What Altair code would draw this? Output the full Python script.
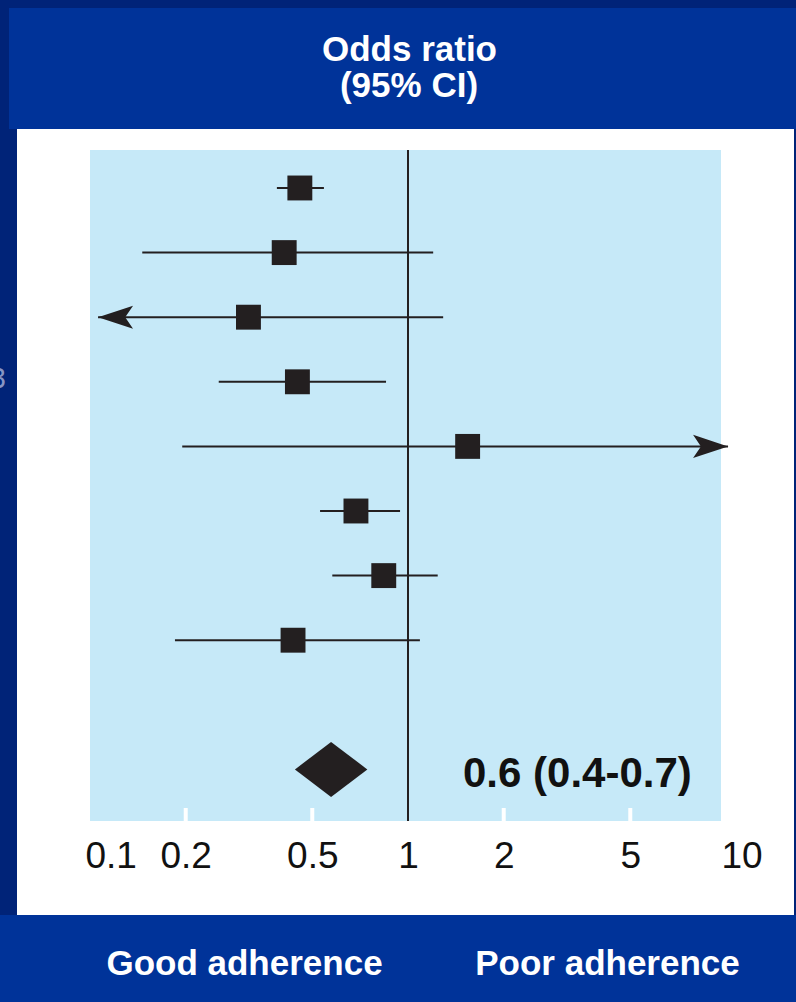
import altair as alt
import pandas as pd

# ---------------- data ----------------
studies = ["Study 1", "Study 2", "Study 3", "Study 4",
           "Study 5", "Study 6", "Study 7", "Study 8"]
odds_ratio = [0.457, 0.408, 0.315, 0.449, 1.54, 0.686, 0.839, 0.435]
ci_low = [0.387, 0.146, 0.106, 0.254, 0.195, 0.529, 0.578, 0.185]
ci_high = [0.544, 1.20, 1.29, 0.853, 10.15, 0.944, 1.24, 1.09]
arrow_dir = ["", "", "left", "", "right", "", "", ""]

pooled_or = 0.573
pooled_low = 0.441
pooled_high = 0.745
pooled_label = "0.6 (0.4-0.7)"

tick_values = [0.1, 0.2, 0.5, 1, 2, 5, 10]
inner_ticks = [0.2, 0.5, 2, 5]
reference_or = [1]

header_lines = ["Odds ratio", "(95% CI)"]
footer_labels = ["Good adherence", "Poor adherence"]
side_fragment = "3"

# ---------------- styling / layout ----------------
W, H = 636, 670
PAD_L, PAD_T = 90, 150
NAVY = "#002378"
BLUE = "#003399"
LIGHT = "#c6e9f8"
INK = "#231f20"
NARROW = "Liberation Sans Narrow, Arial Narrow, Liberation Sans, Arial, sans-serif"
BOLD = "Liberation Sans, Arial, sans-serif"
DIAMOND_HALF = 0.426  # half height of pooled diamond in row units
POOLED_ROW = 9

rows = list(range(len(studies)))
df = pd.DataFrame({"study": studies, "row": rows, "or": odds_ratio,
                   "lo": ci_low, "hi": ci_high, "dir": arrow_dir})
arrows = df[df["dir"] != ""].copy()
arrows["tip"] = [r.lo if r.dir == "left" else r.hi for r in arrows.itertuples()]

diamond = pd.DataFrame({
    "x": [pooled_low, pooled_or, pooled_high],
    "y": [POOLED_ROW, POOLED_ROW - DIAMOND_HALF, POOLED_ROW],
    "y2": [POOLED_ROW, POOLED_ROW + DIAMOND_HALF, POOLED_ROW],
})
ref_df = pd.DataFrame({"x": reference_or})
tick_df = pd.DataFrame({"x": inner_ticks})
dummy = pd.DataFrame({"k": [0]})

xs = alt.Scale(type="log", domain=[0.1, 10], nice=False)
ys = alt.Scale(domain=[-0.588, 9.783], reverse=True, nice=False, zero=False)

xax = alt.Axis(
    values=tick_values, format="~g", title=None, domain=False, ticks=False,
    tickSize=0, grid=False, labelFont=BOLD, labelFontSize=37,
    labelFontWeight="normal", zindex=1,
    labelColor="#111111", labelPadding=18, labelFlush=False, labelOverlap=False,
    labelAlign={"condition": {"test": "datum.value <= 0.1 || datum.value >= 10",
                              "value": "left"}, "value": "center"},
    labelOffset={"condition": {"test": "datum.value <= 0.1 || datum.value >= 10",
                               "value": -5}, "value": 0},
)


def deco_rect(x0, x1, y0, y1, color):
    return alt.Chart(dummy).mark_rect(color=color, strokeWidth=0).encode(
        x=alt.value(x0 - PAD_L), x2=alt.value(x1 - PAD_L),
        y=alt.value(y0 - PAD_T), y2=alt.value(y1 - PAD_T))


def deco_text(txt, cx, baseline_y, size, font, color, align="center", weight="bold"):
    return alt.Chart(dummy).mark_text(
        text=txt, font=font, fontSize=size, fontWeight=weight, color=color,
        align=align, baseline="alphabetic").encode(
        x=alt.value(cx - PAD_L), y=alt.value(baseline_y - PAD_T))


bg_title = deco_rect(9, 796, 8, 129, BLUE)
bg_white = deco_rect(17, 794, 129, 915, "white")
bg_bottom = deco_rect(0, 796, 915, 1002, BLUE)
bg_plot = deco_rect(90, 721, 150, 821, LIGHT)

ref_line = alt.Chart(ref_df).mark_rule(color=INK, strokeWidth=2).encode(
    x=alt.X("x:Q", scale=xs, axis=xax),
    y=alt.value(0), y2=alt.value(821 - PAD_T))

inner = alt.Chart(tick_df).mark_rule(color="white", strokeWidth=4).encode(
    x=alt.X("x:Q", scale=xs, axis=xax),
    y=alt.value(808 - PAD_T), y2=alt.value(821 - PAD_T))

ci = alt.Chart(df).mark_rule(color=INK, strokeWidth=2).encode(
    x=alt.X("lo:Q", scale=xs, axis=xax), x2="hi:Q",
    y=alt.Y("row:Q", scale=ys, axis=None))

left_path = "M0,0L2,-0.66L1.55,0L2,0.66Z"
right_path = "M0,0L-2,-0.66L-1.55,0L-2,0.66Z"
arrow_layer = alt.Chart(arrows).mark_point(filled=True, opacity=1, color=INK,
                                           size=1225, strokeWidth=0).encode(
    x=alt.X("tip:Q", scale=xs, axis=xax),
    y=alt.Y("row:Q", scale=ys, axis=None),
    shape=alt.Shape("dir:N", scale=alt.Scale(domain=["left", "right"],
                                             range=[left_path, right_path]),
                    legend=None))

squares = alt.Chart(df).mark_square(size=620, color=INK, opacity=1).encode(
    x=alt.X("or:Q", scale=xs, axis=xax),
    y=alt.Y("row:Q", scale=ys, axis=None))

pooled = alt.Chart(diamond).mark_area(color=INK, opacity=1).encode(
    x=alt.X("x:Q", scale=xs, axis=xax),
    y=alt.Y("y:Q", scale=ys, axis=None), y2="y2:Q")

pooled_text = deco_text(pooled_label, 463, 787, 42, BOLD, "#111111", align="left")
head1 = deco_text(header_lines[0], 409.5, 61, 35, BOLD, "white")
head2 = deco_text(header_lines[1], 409, 97, 35, BOLD, "white")
foot1 = deco_text(footer_labels[0], 244.5, 975, 35, BOLD, "white")
foot2 = deco_text(footer_labels[1], 607.5, 975, 35, BOLD, "white")
side = deco_text(side_fragment, 6, 388, 29, BOLD, "#8795c4", align="right", weight="normal")

chart = alt.layer(
    bg_title, bg_white, bg_bottom, bg_plot, ref_line, inner, ci, arrow_layer,
    squares, pooled, pooled_text, head1, head2, foot1, foot2, side
).properties(
    width=W, height=H,
    padding={"left": PAD_L, "top": PAD_T, "right": 796 - PAD_L - W,
             "bottom": 1002 - PAD_T - H},
    autosize=alt.AutoSizeParams(type="none"),
    background=NAVY,
).configure_view(stroke=None)

chart.save("out.html", embed_options={"renderer": "svg", "actions": False})
